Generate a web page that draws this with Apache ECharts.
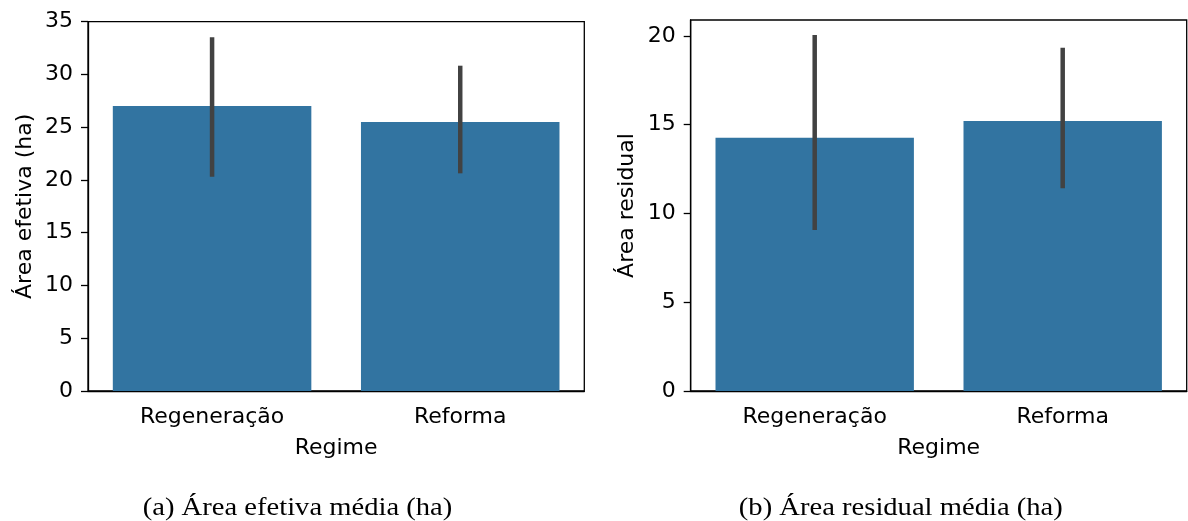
<!DOCTYPE html>
<html>
<head>
<meta charset="utf-8">
<script src="https://cdn.jsdelivr.net/npm/echarts@6/dist/echarts.min.js"></script>
<style>
html,body{margin:0;padding:0;background:#fff;}
#c{width:1188px;height:521px;}
</style>
</head>
<body>
<div id="c"></div>
<script>
const categories = ['Regeneração', 'Reforma'];
// (a) Área efetiva média
const areaEfetiva = [27.01, 25.50];
const areaEfetivaLow = [20.31, 20.63];
const areaEfetivaHigh = [33.52, 30.83];
// (b) Área residual média
const areaResidual = [14.27, 15.21];
const areaResidualLow = [9.07, 11.42];
const areaResidualHigh = [20.06, 19.34];
const leftTicks = [0, 5, 10, 15, 20, 25, 30, 35];
const rightTicks = [0, 5, 10, 15, 20];

const barColor = '#3274a1';
const errColor = '#424242';
const sans = 'DejaVu Sans';
const fs = 22;

function errData(lo, hi) { return lo.map((v, i) => [i, v, hi[i]]); }
function renderErr(params, api) {
  const x = api.value(0);
  const a = api.coord([x, api.value(1)]);
  const b = api.coord([x, api.value(2)]);
  return { type: 'line', shape: { x1: a[0], y1: a[1], x2: b[0], y2: b[1] },
    style: { stroke: errColor, lineWidth: 4.5, lineCap: 'butt' } };
}
function xAxisCfg(gi) {
  return {
    type: 'category', gridIndex: gi, data: categories,
    name: 'Regime', nameLocation: 'middle', nameGap: 46,
    nameTextStyle: { fontFamily: sans, fontSize: fs, color: '#000' },
    axisLine: { lineStyle: { color: '#000', width: 1.3 } },
    axisTick: { alignWithLabel: true, length: 7, lineStyle: { color: '#000', width: 1.3 } },
    axisLabel: { fontFamily: sans, fontSize: fs, color: '#000', margin: 15 },
    splitLine: { show: false }
  };
}
function yAxisCfg(gi, name, max, ticks) {
  return {
    type: 'value', gridIndex: gi, min: 0, max: max, interval: 5,
    name: name, nameLocation: 'middle', nameGap: 52,
    nameTextStyle: { fontFamily: sans, fontSize: fs, color: '#000' },
    axisLine: { show: true, lineStyle: { color: '#000', width: 1.3 } },
    axisTick: { show: true, length: 7, customValues: ticks, lineStyle: { color: '#000', width: 1.3 } },
    axisLabel: { fontFamily: sans, fontSize: fs, color: '#000', margin: 15, customValues: ticks },
    splitLine: { show: false }
  };
}
const chart = echarts.init(document.getElementById('c'), null, { renderer: 'canvas' });
chart.setOption({
  backgroundColor: '#fff',
  animation: false,
  grid: [
    { left: 88, top: 21.7, width: 496.3, height: 369.3, show: true, borderColor: '#000', borderWidth: 1.3, backgroundColor: 'transparent' },
    { left: 690.7, top: 20, width: 496, height: 371, show: true, borderColor: '#000', borderWidth: 1.3, backgroundColor: 'transparent' }
  ],
  xAxis: [xAxisCfg(0), xAxisCfg(1)],
  yAxis: [
    yAxisCfg(0, 'Área efetiva (ha)', 35, leftTicks),
    yAxisCfg(1, 'Área residual', 20.9, rightTicks)
  ],
  series: [
    { type: 'bar', xAxisIndex: 0, yAxisIndex: 0, data: areaEfetiva, barCategoryGap: '20%', itemStyle: { color: barColor }, z: 2 },
    { type: 'custom', xAxisIndex: 0, yAxisIndex: 0, data: errData(areaEfetivaLow, areaEfetivaHigh), renderItem: renderErr, encode: { x: 0, y: [1, 2] }, z: 5 },
    { type: 'bar', xAxisIndex: 1, yAxisIndex: 1, data: areaResidual, barCategoryGap: '20%', itemStyle: { color: barColor }, z: 2 },
    { type: 'custom', xAxisIndex: 1, yAxisIndex: 1, data: errData(areaResidualLow, areaResidualHigh), renderItem: renderErr, encode: { x: 0, y: [1, 2] }, z: 5 }
  ],
  graphic: [
    { type: 'text', x: 297.5, y: 521, scaleX: 1.1, style: { text: '(a) Área efetiva média (ha)', font: '26px "Liberation Serif"', fill: '#000', align: 'center', verticalAlign: 'bottom' } },
    { type: 'text', x: 900.8, y: 521, scaleX: 1.1, style: { text: '(b) Área residual média (ha)', font: '26px "Liberation Serif"', fill: '#000', align: 'center', verticalAlign: 'bottom' } }
  ]
});
</script>
</body>
</html>
